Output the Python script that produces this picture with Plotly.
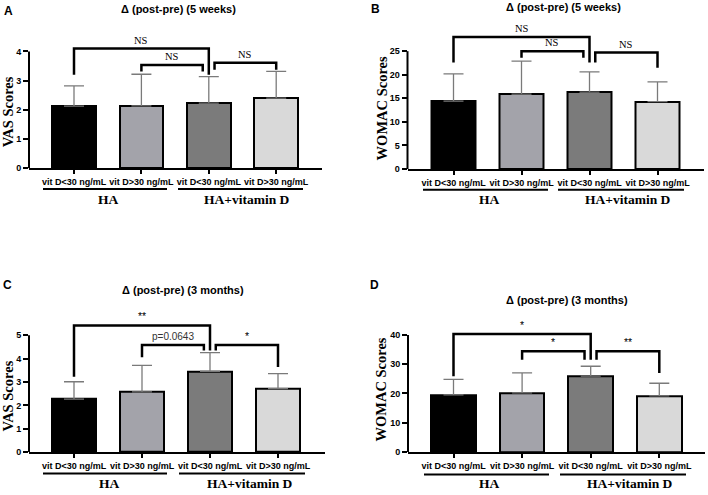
import plotly.graph_objects as go

W, H = 708, 495

# ---------------- data ----------------
categories = ["vit D<30 ng/mL", "vit D>30 ng/mL", "vit D<30 ng/mL", "vit D>30 ng/mL"]
groups = ["HA", "HA+vitamin D"]
bar_colors = ["#000000", "#a3a3aa", "#7b7b7b", "#d9d9d9"]

vas_5w_mean = [2.13, 2.14, 2.23, 2.40]
vas_5w_sd = [0.69, 1.08, 0.91, 0.92]
womac_5w_mean = [14.4, 15.9, 16.3, 14.3]
womac_5w_sd = [5.8, 7.0, 4.3, 4.2]
vas_3m_mean = [2.27, 2.58, 3.46, 2.72]
vas_3m_sd = [0.74, 1.13, 0.80, 0.64]
womac_3m_mean = [19.5, 20.2, 25.9, 19.2]
womac_3m_sd = [5.3, 6.8, 3.4, 4.3]

# significance brackets: (left bar, right bar, bracket level, left leg end, right leg end, label)
vas_5w_brackets = [(0, 2, 4.10, 3.20, 3.20, "NS"), (1, 2, 3.54, 3.31, 3.31, "NS"), (2, 3, 3.61, 3.37, 3.37, "NS")]
womac_5w_brackets = [(0, 2, 28.0, 22.6, 22.6, "NS"), (1, 2, 25.0, 23.6, 23.6, "NS"), (2, 3, 24.7, 22.6, 21.5, "NS")]
vas_3m_brackets = [(0, 2, 5.42, 3.22, 4.35, "**"), (1, 2, 4.58, 4.06, 4.35, "p=0.0643"), (2, 3, 4.58, 4.35, 3.64, "*")]
womac_3m_brackets = [(0, 2, 40.3, 25.9, 31.5, "*"), (1, 2, 34.4, 31.5, 31.5, "*"), (2, 3, 34.4, 31.5, 27.0, "**")]

panel_letters = ["A", "B", "C", "D"]
panel_titles = ["Δ (post-pre) (5 weeks)", "Δ (post-pre) (5 weeks)",
                "Δ (post-pre) (3 months)", "Δ (post-pre) (3 months)"]
y_titles = ["VAS Scores", "WOMAC Scores", "VAS Scores", "WOMAC Scores"]
y_tick_max = [4, 25, 5, 40]
y_tick_step = [1, 5, 1, 10]

# ---------------- layout geometry (pixels) ----------------
SANS = "Liberation Sans, Arial, sans-serif"
SERIF = "Liberation Serif, Times New Roman, serif"

panels = [
    dict(mean=vas_5w_mean, sd=vas_5w_sd, br=vas_5w_brackets,
         ax_l=29, ax_r=322, c0=74, sp=67.4, base=170, ppu=29.5, top=4.7,
         letter=(8, 11), title=(179, 9), ytitle=(7.5, 113),
         gline_y=191, glines=[(43, 167), (178, 303)], glab_y=202, glabs=[108, 247]),
    dict(mean=womac_5w_mean, sd=womac_5w_sd, br=womac_5w_brackets,
         ax_l=407.5, ax_r=704, c0=453.5, sp=68, base=170.7, ppu=4.76, top=31,
         letter=(375, 9), title=(563, 7), ytitle=(381.5, 110),
         gline_y=191.7, glines=[(423, 548), (558, 684)], glab_y=202, glabs=[489, 628]),
    dict(mean=vas_3m_mean, sd=vas_3m_sd, br=vas_3m_brackets,
         ax_l=29, ax_r=325, c0=74, sp=68, base=456.7, ppu=23.6, top=6.05,
         letter=(7.5, 288.3), title=(182.5, 292.7), ytitle=(7.5, 400),
         gline_y=478.3, glines=[(43, 167), (179, 305)], glab_y=488, glabs=[109, 250]),
    dict(mean=womac_3m_mean, sd=womac_3m_sd, br=womac_3m_brackets,
         ax_l=408, ax_r=705, c0=453.5, sp=68.6, base=456.7, ppu=2.96, top=45,
         letter=(374, 288), title=(567, 303.3), ytitle=(381, 393.5),
         gline_y=479.3, glines=[(424, 549), (560, 686)], glab_y=488.5, glabs=[489, 630]),
]


def fx(px):
    return px / W


def fy(py):
    return 1 - py / H


fig = go.Figure()
shapes = []
annotations = []
layout_axes = {}

for k, p in enumerate(panels):
    n = "" if k == 0 else str(k + 1)
    xa, ya = "x" + n, "y" + n
    xr = [(p["ax_l"] - p["c0"]) / p["sp"], (p["ax_r"] - p["c0"]) / p["sp"]]
    top_px = p["base"] - p["top"] * p["ppu"]

    fig.add_trace(go.Bar(
        x=list(range(len(categories))), y=p["mean"], width=0.65,
        marker=dict(color=bar_colors, line=dict(color="black", width=2)),
        error_y=dict(type="data", symmetric=False, array=p["sd"],
                     arrayminus=[0] * len(p["sd"]), color="#7a7a7a",
                     thickness=1.3, width=10),
        xaxis=xa, yaxis=ya, showlegend=False, hoverinfo="skip"))

    layout_axes["xaxis" + n] = dict(
        domain=[fx(p["ax_l"]), fx(p["ax_r"])], range=xr, anchor=ya,
        tickvals=list(range(len(categories))), ticktext=categories, tickangle=0,
        ticks="outside", ticklen=4, tickwidth=1.5, tickcolor="black",
        showline=True, linewidth=2, linecolor="black",
        showgrid=False, zeroline=False, fixedrange=True,
        tickfont=dict(family=SANS, size=9, color="black", weight="bold"))
    tv = list(range(0, y_tick_max[k] + 1, y_tick_step[k]))
    layout_axes["yaxis" + n] = dict(
        domain=[fy(p["base"]), fy(top_px)], range=[0, p["top"]], anchor=xa,
        tickvals=tv, ticks="outside", ticklen=5, tickwidth=2, tickcolor="black",
        showline=False, showgrid=False, zeroline=False, fixedrange=True,
        tickfont=dict(family=SANS, size=9, color="black", weight="bold"))

    # y axis line up to the last tick
    shapes.append(dict(type="line", xref=xa + " domain", yref=ya, x0=0, x1=0,
                       y0=0, y1=y_tick_max[k], line=dict(color="black", width=2)))

    # significance brackets
    for (l, r, lev, yl, yr, lab) in p["br"]:
        xl = l + (0.085 if l == 2 else 0)
        xrr = r - (0.09 if (r == 2 and l != 0) else 0)
        shapes.append(dict(type="path", xref=xa, yref=ya,
                           path=f"M {xl},{yl} L {xl},{lev} L {xrr},{lev} L {xrr},{yr}",
                           line=dict(color="black", width=2.5)))
        if lab == "NS":
            f = dict(family=SERIF, size=10.5, color="black")
        elif lab.startswith("p"):
            f = dict(family=SANS, size=10, color="#333333")
        else:
            f = dict(family=SANS, size=10.5, color="black")
        annotations.append(dict(x=(xl + xrr) / 2, y=lev, xref=xa, yref=ya, text=lab,
                                showarrow=False, yanchor="bottom", yshift=1, font=f))

    # group lines and labels
    for (a, b), g, gx in zip(p["glines"], groups, p["glabs"]):
        shapes.append(dict(type="line", xref="paper", yref="paper",
                           x0=fx(a), x1=fx(b), y0=fy(p["gline_y"]), y1=fy(p["gline_y"]),
                           line=dict(color="black", width=2)))
        annotations.append(dict(x=fx(gx), y=fy(p["glab_y"]), xref="paper", yref="paper",
                                text=g, showarrow=False, xanchor="center", yanchor="middle",
                                font=dict(family=SERIF, size=13.5, color="black", weight="bold")))

    # panel letter, title, y title
    annotations.append(dict(x=fx(p["letter"][0]), y=fy(p["letter"][1]), xref="paper", yref="paper",
                            text=panel_letters[k], showarrow=False, xanchor="center", yanchor="middle",
                            font=dict(family=SANS, size=12, color="black", weight="bold")))
    annotations.append(dict(x=fx(p["title"][0]), y=fy(p["title"][1]), xref="paper", yref="paper",
                            text=panel_titles[k], showarrow=False, xanchor="center", yanchor="middle",
                            font=dict(family=SANS, size=11, color="black", weight="bold")))
    annotations.append(dict(x=fx(p["ytitle"][0]), y=fy(p["ytitle"][1]), xref="paper", yref="paper",
                            text=y_titles[k], showarrow=False, textangle=-90,
                            xanchor="center", yanchor="middle",
                            font=dict(family=SERIF, size=14.5, color="black", weight="bold")))

fig.update_layout(
    width=W, height=H, margin=dict(l=0, r=0, t=0, b=0),
    paper_bgcolor="white", plot_bgcolor="white",
    shapes=shapes, annotations=annotations, bargap=0, **layout_axes)

fig.write_html("out.html", config={"displayModeBar": False},
               post_script="document.body.style.margin='0';document.body.style.overflow='hidden';")
